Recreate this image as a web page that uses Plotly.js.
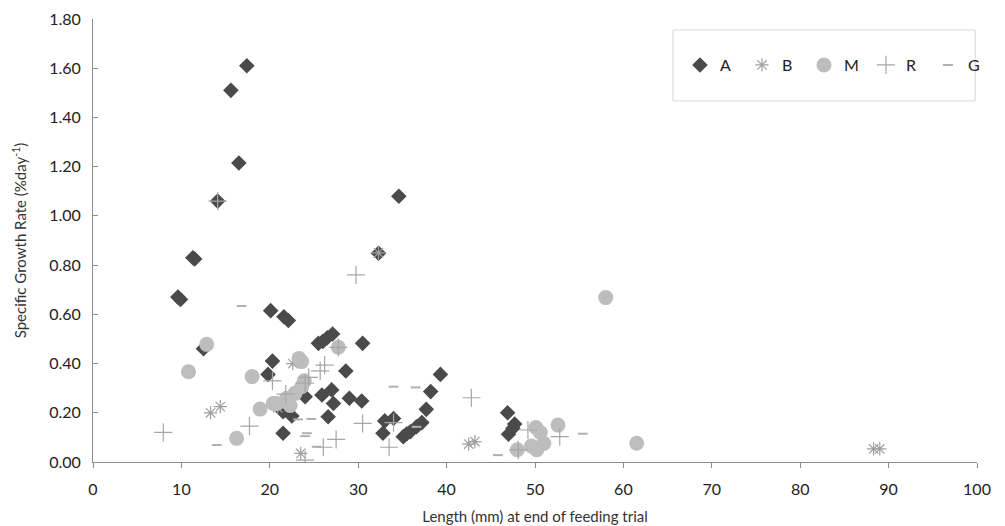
<!DOCTYPE html>
<html>
<head>
<meta charset="utf-8">
<script src="https://cdn.plot.ly/plotly-3.0.1.min.js"></script>
<style>html,body{margin:0;padding:0;background:#fff;}#chart{width:1005px;height:526px;}</style>
</head>
<body>
<div id="chart"></div>
<script>
// Series A (dark diamonds)
const aX = [9.6, 9.9, 11.3, 11.5, 12.5, 14.1, 15.6, 16.5, 17.4, 20.1, 21.6, 22.1, 20.3, 19.8, 21.5, 22.5, 21.5, 24.0, 25.5, 26.0, 26.5, 27.1, 30.5, 28.6, 25.9, 27.0, 27.2, 26.6, 29.0, 30.4, 32.3, 34.6, 33.0, 34.0, 32.8, 35.1, 35.5, 35.9, 36.6, 37.2, 37.7, 38.2, 39.3, 46.9, 47.7, 47.5, 47.0];
const aY = [0.67, 0.66, 0.83, 0.825, 0.46, 1.06, 1.51, 1.215, 1.61, 0.615, 0.59, 0.575, 0.41, 0.356, 0.204, 0.187, 0.117, 0.265, 0.482, 0.49, 0.505, 0.52, 0.482, 0.37, 0.272, 0.293, 0.238, 0.184, 0.259, 0.248, 0.848, 1.08, 0.167, 0.177, 0.117, 0.103, 0.115, 0.123, 0.143, 0.16, 0.214, 0.286, 0.356, 0.2, 0.154, 0.137, 0.113];
// Series B (asterisks)
const bX = [13.3, 14.4, 22.6, 20.9, 23.5, 32.3, 42.5, 43.2, 88.3, 89.0];
const bY = [0.20, 0.225, 0.40, 0.22, 0.035, 0.85, 0.073, 0.083, 0.053, 0.053];
// Series M (light grey circles)
const mX = [10.8, 12.86, 16.25, 18.0, 18.9, 20.4, 20.8, 21.9, 22.3, 22.85, 23.6, 23.9, 23.3, 23.6, 27.75, 48.0, 49.6, 50.2, 51.0, 50.1, 50.6, 52.6, 58.0, 61.5];
const mY = [0.367, 0.478, 0.096, 0.347, 0.215, 0.238, 0.238, 0.259, 0.23, 0.279, 0.306, 0.33, 0.421, 0.408, 0.466, 0.05, 0.065, 0.05, 0.075, 0.14, 0.12, 0.15, 0.668, 0.076];
// Series R (plus signs)
const rX = [7.95, 14.1, 17.7, 20.3, 21.8, 24.0, 24.4, 25.7, 26.2, 27.75, 30.5, 27.5, 26.05, 33.5, 34.0, 24.0, 29.75, 42.8, 48.1, 49.2, 52.8];
const rY = [0.12, 1.06, 0.146, 0.33, 0.276, 0.32, 0.344, 0.37, 0.394, 0.466, 0.157, 0.092, 0.06, 0.06, 0.16, 0.008, 0.76, 0.261, 0.049, 0.13, 0.103];
// Series G (dashes)
const gX = [16.8, 14.0, 24.7, 23.2, 24.2, 24.0, 25.3, 34.0, 36.5, 36.6, 45.8, 55.4];
const gY = [0.634, 0.069, 0.175, 0.173, 0.117, 0.105, 0.062, 0.306, 0.303, 0.143, 0.028, 0.115];

const xTicks = [0, 10, 20, 30, 40, 50, 60, 70, 80, 90, 100];
const yTicks = [0, 0.2, 0.4, 0.6, 0.8, 1.0, 1.2, 1.4, 1.6, 1.8];

const FONT = 'Lato, "Open Sans", sans-serif';

const traces = [
  {x: aX, y: aY, name: 'A', type: 'scatter', mode: 'markers',
   marker: {symbol: 'diamond', size: 12, color: '#4a4a4a'}},
  {x: bX, y: bY, name: 'B', type: 'scatter', mode: 'markers',
   marker: {symbol: 'asterisk-open', size: 11, color: '#a0a0a0', line: {color: '#a0a0a0', width: 1.2}}},
  {x: mX, y: mY, name: 'M', type: 'scatter', mode: 'markers',
   marker: {symbol: 'circle', size: 15, color: '#bdbdbd'}},
  {x: rX, y: rY, name: 'R', type: 'scatter', mode: 'markers',
   marker: {symbol: 'cross-thin-open', size: 13, color: '#a6a6a6', line: {color: '#a6a6a6', width: 1.2}}},
  {x: gX, y: gY, name: 'G', type: 'scatter', mode: 'markers',
   marker: {symbol: 'line-ew-open', size: 7, color: '#b0b0b0', line: {color: '#b0b0b0', width: 2}}}
];

const layout = {
  width: 1005, height: 526,
  margin: {l: 93, r: 28, t: 19, b: 64, autoexpand: false},
  paper_bgcolor: '#ffffff', plot_bgcolor: '#ffffff',
  font: {family: FONT, size: 15, color: '#333333'},
  showlegend: true,
  legend: {orientation: 'h', x: 0.664, xanchor: 'left', y: 0.896, yanchor: 'middle',
    bgcolor: 'rgba(0,0,0,0)', borderwidth: 0, entrywidth: 17, entrywidthmode: 'pixels',
    itemwidth: 30, font: {family: FONT, size: 16, color: '#222'}},
  shapes: [{type: 'rect', xref: 'paper', yref: 'paper', x0: 0.656, x1: 0.998, y0: 0.815, y1: 0.975,
    line: {color: '#d9d9d9', width: 1}, fillcolor: 'rgba(0,0,0,0)'}],
  xaxis: {range: [0, 100], tickvals: xTicks, ticktext: xTicks.map(String),
    showgrid: false, zeroline: false, showline: true, linecolor: '#8c8c8c', linewidth: 1,
    ticks: 'outside', ticklen: 5, tickcolor: '#8c8c8c', ticklabelstandoff: 8,
    tickfont: {family: FONT, size: 16, color: '#222'},
    title: {text: 'Length (mm) at end of feeding trial', font: {family: FONT, size: 15, color: '#333'}, standoff: 14}},
  yaxis: {range: [0, 1.8], tickvals: yTicks, ticktext: yTicks.map(v => v.toFixed(2)),
    showgrid: false, zeroline: false, showline: true, linecolor: '#8c8c8c', linewidth: 1,
    ticks: 'inside', ticklen: 5, tickcolor: '#8c8c8c', ticklabelstandoff: 8,
    tickfont: {family: FONT, size: 16, color: '#222'},
    title: {text: 'Specific Growth Rate (%day<sup>-1</sup>)', font: {family: FONT, size: 15, color: '#333'}, standoff: 18}}
};

Plotly.newPlot('chart', traces, layout, {displayModeBar: false, staticPlot: true});
</script>
</body>
</html>
